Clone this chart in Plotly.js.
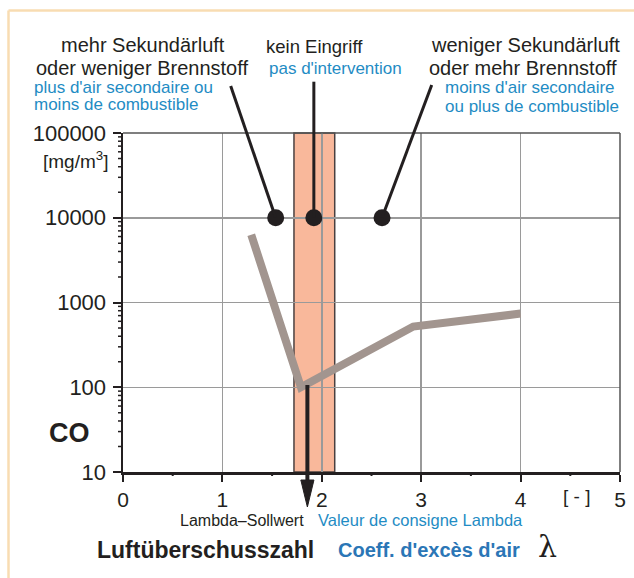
<!DOCTYPE html>
<html>
<head>
<meta charset="utf-8">
<script src="https://cdn.plot.ly/plotly-3.0.1.min.js"></script>
<style>
  html, body { margin: 0; padding: 0; background: #ffffff; }
  #chart { width: 634px; height: 578px; }
</style>
</head>
<body>
<div id="chart"></div>
<script>
// ---- data ----
const lambdaCurve = [1.29, 1.79, 2.92, 4.0];
const coCurve = [6300, 100, 520, 740];
const dotLambda = [1.536, 1.92, 2.606];
const dotCO = [10000, 10000, 10000];
const bandLambda = [1.72, 2.13];
const setpointLambda = 1.855;
const xTickVals = [0, 1, 2, 3, 4, 5];
const xMinorTickVals = [0.5, 1.5, 2.5, 3.5, 4.5];
const yTickVals = [10, 100, 1000, 10000, 100000];
const yTickText = ['10', '100', '1000', '10000', '100000'];
const yMinorMantissas = [2, 3, 4, 5, 6, 7, 8, 9];

// ---- pixel helpers for annotation placement (plot area 123..620, 133..472) ----
const L = 123, R = 620, T = 133, B = 472;
const px = p => (p - L) / (R - L);
const py = p => (B - p) / (B - T);
const dx = p => (p - L) / (R - L) * 5; // pixel -> lambda value
const yLogMin = Math.log10(yTickVals[0]), yLogMax = Math.log10(yTickVals[yTickVals.length - 1]);
const yPaper = v => (Math.log10(v) - yLogMin) / (yLogMax - yLogMin);

const BLACK = '#231f20';
const BLUE = '#1f8cc4';
const BLUE2 = '#2b76b6';
const F = 'Liberation Sans, Arial, Helvetica, sans-serif';

const traces = [
  {
    x: lambdaCurve, y: coCurve, type: 'scatter', mode: 'lines',
    line: { color: '#a2958f', width: 8 }, hoverinfo: 'skip', showlegend: false
  },
  {
    x: dotLambda, y: dotCO, type: 'scatter', mode: 'markers',
    marker: { color: BLACK, size: 17 }, hoverinfo: 'skip', showlegend: false, cliponaxis: false
  }
];

function ann(text, xp, yp, size, color, anchor, bold, family) {
  return {
    text: bold ? '<b>' + text + '</b>' : text,
    xref: 'paper', yref: 'paper', x: px(xp), y: py(yp),
    xanchor: anchor || 'center', yanchor: 'middle', showarrow: false,
    font: { size: size, color: color, family: family || F }
  };
}

const annotations = [
  ann('mehr Sekundärluft', 143, 45, 20, BLACK),
  ann('oder weniger Brennstoff', 142, 68, 20, BLACK),
  ann("plus d'air secondaire ou", 32, 87, 17, BLUE, 'left'),
  ann('moins de combustible', 32, 105, 17, BLUE, 'left'),
  ann('kein Eingriff', 314, 47, 18.5, BLACK),
  ann("pas d'intervention", 335, 68, 17, BLUE),
  ann('weniger Sekundärluft', 525, 45, 20, BLACK),
  ann('oder mehr Brennstoff', 523, 68, 20, BLACK),
  ann("moins d'air secondaire", 443, 87, 17, BLUE, 'left'),
  ann('ou plus de combustible', 443, 106, 17, BLUE, 'left'),
  ann('[mg/m<sup>3</sup>]', 75, 160, 19, BLACK),
  ann('CO', 69, 433, 27, BLACK, 'center', true),
  ann('[ - ]', 576, 496, 19, BLACK),
  ann('Lambda–Sollwert', 306, 520, 16, BLACK, 'right'),
  ann('Valeur de consigne Lambda', 316, 520, 16.5, BLUE, 'left'),
  ann('Luftüberschusszahl', 95, 550, 23, BLACK, 'left', true),
  ann("Coeff. d'excès d'air", 336, 550, 20, BLUE2, 'left', true),
  ann('λ', 547, 546, 30, BLACK, 'center', false, 'DejaVu Serif, Liberation Serif, serif')
];

const lineStyle = { color: BLACK, width: 3 };
const dotYPaper = yPaper(dotCO[0]);
const shapes = [
  // beige page frame (top and left edges)
  { type: 'line', xref: 'paper', yref: 'paper', x0: px(8.5), y0: py(10.5), x1: px(640), y1: py(10.5),
    line: { color: '#f8dcb2', width: 2.5 } },
  { type: 'line', xref: 'paper', yref: 'paper', x0: px(8.5), y0: py(10.5), x1: px(8.5), y1: py(590),
    line: { color: '#f8dcb2', width: 2.5 } },
  // control band
  { type: 'rect', xref: 'x', yref: 'paper', x0: bandLambda[0], x1: bandLambda[1], y0: 0, y1: 1,
    fillcolor: '#f9b89b', line: { color: '#4a4040', width: 1.5 }, layer: 'below' },
  // plot frame top/right
  { type: 'line', xref: 'paper', yref: 'paper', x0: 0, x1: 1, y0: 1, y1: 1,
    line: { color: '#555555', width: 1.5 } },
  { type: 'line', xref: 'paper', yref: 'paper', x0: 1, x1: 1, y0: 0, y1: 1,
    line: { color: '#555555', width: 1.5 } },
  // leader lines
  { type: 'line', xref: 'x', yref: 'paper', x0: dotLambda[0], y0: dotYPaper, x1: dx(230.7), y1: py(86), line: lineStyle },
  { type: 'line', xref: 'x', yref: 'paper', x0: dotLambda[1], y0: dotYPaper, x1: dotLambda[1], y1: py(81.7), line: lineStyle },
  { type: 'line', xref: 'x', yref: 'paper', x0: dotLambda[2], y0: dotYPaper, x1: dx(431.7), y1: py(85), line: lineStyle },
  // setpoint arrow
  { type: 'line', xref: 'x', yref: 'paper', x0: setpointLambda, y0: py(385), x1: setpointLambda, y1: py(484),
    line: { color: BLACK, width: 4 } },
  { type: 'path', xref: 'x', yref: 'paper',
    path: 'M ' + (setpointLambda - 0.066) + ',' + py(480) + ' L ' + (setpointLambda + 0.066) + ',' + py(480) +
          ' L ' + setpointLambda + ',' + py(507) + ' Z',
    fillcolor: BLACK, line: { color: BLACK, width: 1 } }
];

// minor ticks (log axis: 2..9 per decade; x axis: halves)
yTickVals.slice(0, -1).forEach(d => yMinorMantissas.forEach(m => {
  const yp = yPaper(m * d);
  shapes.push({ type: 'line', xref: 'paper', yref: 'paper', x0: px(L - 5), x1: px(L), y0: yp, y1: yp,
    line: { color: BLACK, width: 1.5 } });
}));
xMinorTickVals.forEach(v => {
  shapes.push({ type: 'line', xref: 'x', yref: 'paper', x0: v, x1: v, y0: py(B), y1: py(B + 4),
    line: { color: BLACK, width: 2 } });
});

const layout = {
  width: 634, height: 578,
  margin: { l: L, r: 634 - R, t: T, b: 578 - B, pad: 0 },
  paper_bgcolor: '#ffffff', plot_bgcolor: '#ffffff',
  showlegend: false,
  font: { family: F, color: BLACK },
  xaxis: {
    range: [0, 5], tickmode: 'array', tickvals: xTickVals,
    ticks: 'outside', ticklen: 7, tickwidth: 2, tickcolor: BLACK,
    tickfont: { size: 21, color: BLACK, family: F },
    showgrid: true, gridcolor: '#9a9a9a', gridwidth: 1.5,
    showline: true, linecolor: BLACK, linewidth: 2.5, zeroline: false,
    ticklabelstandoff: 0, fixedrange: true
  },
  yaxis: {
    type: 'log', range: [yLogMin, yLogMax], tickmode: 'array', tickvals: yTickVals, ticktext: yTickText,
    ticks: 'outside', ticklen: 8, tickwidth: 2, tickcolor: BLACK,
    tickfont: { size: 22, color: BLACK, family: F },
    showgrid: true, gridcolor: '#9a9a9a', gridwidth: 1.5,
    showline: true, linecolor: BLACK, linewidth: 2.5, zeroline: false,
    ticklabelstandoff: 2, fixedrange: true
  },
  annotations: annotations,
  shapes: shapes
};

Plotly.newPlot('chart', traces, layout, { displayModeBar: false, staticPlot: true });
</script>
</body>
</html>
